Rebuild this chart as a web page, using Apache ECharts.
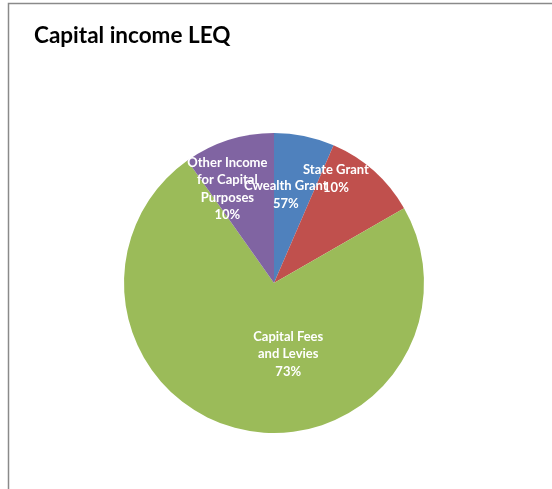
<!DOCTYPE html>
<html><head><meta charset="utf-8">
<script src="https://cdn.jsdelivr.net/npm/echarts@6/dist/echarts.min.js"></script>
<style>html,body{margin:0;padding:0;background:#fff}#c{width:552px;height:489px}</style>
</head><body><div id="c"></div>
<script>
const categories = ['Cwealth Grant', 'State Grant', 'Capital Fees and Levies', 'Other Income for Capital Purposes'];
const values = [6.5, 10.2, 73.5, 9.8];
const pctLabels = ['57%', '10%', '73%', '10%'];
const labelNames = ['Cwealth Grant', 'State Grant', 'Capital Fees\nand Levies', 'Other Income\nfor Capital\nPurposes'];
const colors = ['#4F81BD', '#C0504D', '#9BBB59', '#8064A2'];
const offsets = [[-4, -12], [10, -46], [31, -5], [-23, -20]];

const chart = echarts.init(document.getElementById('c'), null, {renderer: 'canvas'});
chart.setOption({
  animation: false,
  title: {
    text: 'Capital income LEQ', left: 29, top: 19,
    textStyle: {fontFamily: 'Lato', fontWeight: 'bold', fontSize: 22.5, color: '#000'}
  },
  graphic: [{
    type: 'rect', shape: {x: 8.5, y: 3.5, width: 600, height: 600},
    style: {fill: 'none', stroke: '#8a8a8a', lineWidth: 1.5}, silent: true
  }],
  series: [{
    type: 'pie', center: [274, 283], radius: 150, startAngle: 90, clockwise: true,
    avoidLabelOverlap: false,
    minShowLabelAngle: 0,
    labelLayout: {hideOverlap: false},
    data: categories.map((c, i) => ({
      name: c, value: values[i],
      itemStyle: {color: colors[i]},
      label: {offset: offsets[i]}
    })),
    label: {
      show: true, position: 'inside', color: '#fff', overflow: 'none',
      fontFamily: 'Lato', fontWeight: 'bold', fontSize: 13, lineHeight: 17.5,
      formatter: p => labelNames[p.dataIndex] + '\n' + pctLabels[p.dataIndex]
    },
    labelLine: {show: false}
  }]
});
</script></body></html>
